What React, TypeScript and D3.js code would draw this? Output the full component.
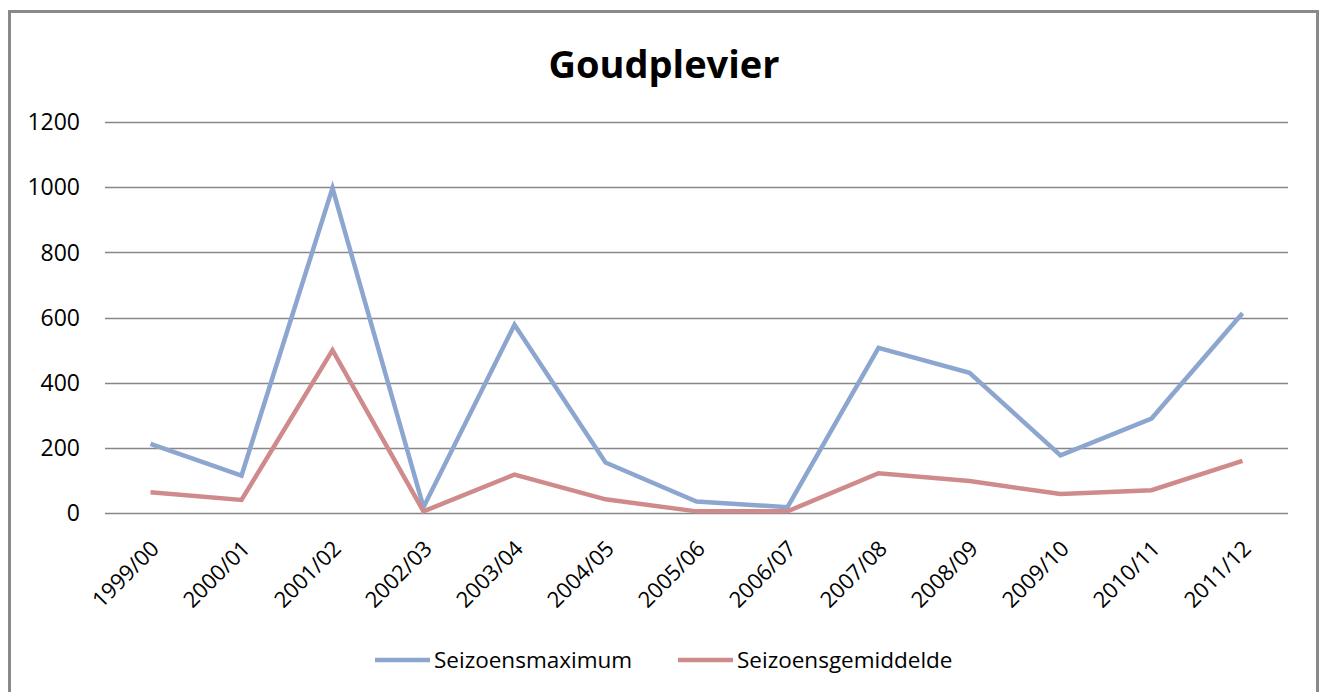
import React, {useRef, useEffect} from 'react';
import * as d3 from 'd3';

const seasons = ['1999/00','2000/01','2001/02','2002/03','2003/04','2004/05','2005/06','2006/07','2007/08','2008/09','2009/10','2010/11','2011/12'];
const seasonMax = [212, 115, 997, 18, 578, 155, 35, 18, 507, 430, 177, 290, 613];
const seasonMean = [64, 40, 500, 5, 118, 42, 5, 5, 122, 98, 58, 70, 160];
const yTicks = [0, 200, 400, 600, 800, 1000, 1200];
const seriesNames = ['Seizoensmaximum', 'Seizoensgemiddelde'];
const seriesColors = ['#8ca6d0', '#cf8b8b'];

export default function App(){
    const svgRef = useRef(null);

    useEffect(() => {
        const svg = d3.select(svgRef.current);
        svg.selectAll('*').remove();
        const font = '"Open Sans", Lato, sans-serif';

        // outer frame
        svg.append('rect')
            .attr('x', 9.5).attr('y', 11.5).attr('width', 1308).attr('height', 700)
            .attr('fill', '#fff').attr('stroke', '#898989').attr('stroke-width', 3);

        const left = 105, right = 1288, top = 122, bottom = 513;

        const xScale = d3.scaleBand().domain(seasons).range([left, right]);
        const yScale = d3.scaleLinear().domain([0, 1200]).range([bottom, top]);

        // gridlines
        svg.append('g').selectAll('line')
            .data(yTicks)
            .join('line')
            .attr('x1', left).attr('x2', right)
            .attr('y1', d => Math.round(yScale(d)) + 0.5)
            .attr('y2', d => Math.round(yScale(d)) + 0.5)
            .attr('stroke', '#878787').attr('stroke-width', 1.6);

        // y labels
        svg.append('g').selectAll('text')
            .data(yTicks)
            .join('text')
            .attr('x', 80).attr('y', d => yScale(d))
            .attr('dy', '0.36em')
            .attr('text-anchor', 'end')
            .attr('font-family', font).attr('font-size', 23)
            .attr('fill', '#000')
            .text(d => d);

        // x labels
        svg.append('g').selectAll('text')
            .data(seasons)
            .join('text')
            .attr('transform', d => `translate(${xScale(d) + xScale.bandwidth() / 2 + 10}, 550) rotate(-45)`)
            .attr('text-anchor', 'end')
            .attr('font-family', font).attr('font-size', 22)
            .attr('fill', '#000')
            .text(d => d);

        // series lines
        const line = d3.line()
            .x((d, i) => xScale(seasons[i]) + xScale.bandwidth() / 2)
            .y(d => yScale(d));

        [seasonMax, seasonMean].forEach((vals, k) => {
            svg.append('path')
                .datum(vals)
                .attr('d', line)
                .attr('fill', 'none')
                .attr('stroke', seriesColors[k])
                .attr('stroke-width', 4.5)
                .attr('stroke-linejoin', 'miter');
        });

        // title
        svg.append('text')
            .attr('x', 664).attr('y', 78)
            .attr('text-anchor', 'middle')
            .attr('font-family', font).attr('font-size', 38).attr('font-weight', 'bold')
            .attr('fill', '#000')
            .text('Goudplevier');

        // legend
        const legendX = [375, 678];
        const legend = svg.append('g');
        seriesNames.forEach((name, k) => {
            legend.append('line')
                .attr('x1', legendX[k]).attr('x2', legendX[k] + 55)
                .attr('y1', 660).attr('y2', 660)
                .attr('stroke', seriesColors[k]).attr('stroke-width', 4.5);
            legend.append('text')
                .attr('x', legendX[k] + 59).attr('y', 660)
                .attr('dy', '0.36em')
                .attr('font-family', font).attr('font-size', 22.5)
                .attr('fill', '#000')
                .text(name);
        });
    });

    return(
        <svg ref={svgRef} width={1325} height={692}
            style={{position: 'absolute', left: 0, top: 0, background: '#fff'}}>
        </svg>
    );
}
